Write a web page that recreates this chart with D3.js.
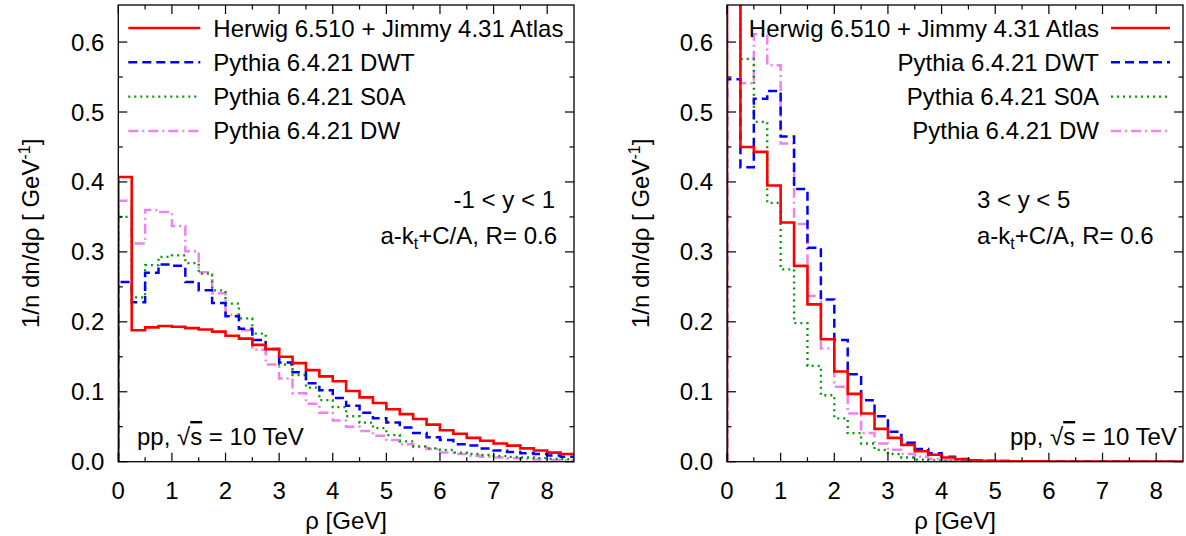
<!DOCTYPE html>
<html><head><meta charset="utf-8">
<script src="https://cdn.jsdelivr.net/npm/d3@7"></script>
<style>body{margin:0;background:#fff}svg{display:block;font-family:"Liberation Sans",Arial,sans-serif}</style>
</head><body>
<svg id="c" width="1186" height="536"></svg>
<script>
// bin lower edges (GeV), bin width 0.25
const binEdges = [0,0.25,0.5,0.75,1,1.25,1.5,1.75,2,2.25,2.5,2.75,3,3.25,3.5,3.75,4,4.25,4.5,4.75,5,5.25,5.5,5.75,6,6.25,6.5,6.75,7,7.25,7.5,7.75,8,8.25];
const binWidth = 0.25;
const xTicks = [0,1,2,3,4,5,6,7,8];
const yTicks = [0,0.1,0.2,0.3,0.4,0.5,0.6];
const seriesNames = ["Herwig 6.510 + Jimmy 4.31 Atlas","Pythia 6.4.21 DWT","Pythia 6.4.21 S0A","Pythia 6.4.21 DW"];

// left panel: -1 < y < 1
const herwigCentral = [0.407,0.188,0.192,0.194,0.193,0.191,0.189,0.186,0.180,0.176,0.167,0.161,0.150,0.141,0.131,0.122,0.115,0.101,0.092,0.084,0.075,0.068,0.061,0.053,0.045,0.040,0.034,0.030,0.026,0.023,0.019,0.016,0.013,0.011];
const dwtCentral    = [0.257,0.228,0.270,0.282,0.280,0.257,0.245,0.227,0.208,0.190,0.174,0.161,0.142,0.128,0.112,0.102,0.091,0.080,0.070,0.062,0.056,0.049,0.041,0.035,0.031,0.025,0.023,0.019,0.016,0.014,0.012,0.011,0.009,0.007];
const s0aCentral    = [0.350,0.235,0.281,0.293,0.295,0.284,0.269,0.245,0.226,0.205,0.183,0.161,0.139,0.124,0.106,0.088,0.078,0.065,0.056,0.048,0.038,0.029,0.022,0.019,0.017,0.013,0.011,0.0096,0.008,0.007,0.006,0.005,0.004,0.0035];
const dwCentral     = [0.373,0.312,0.360,0.357,0.337,0.301,0.271,0.241,0.210,0.188,0.160,0.139,0.119,0.098,0.083,0.070,0.059,0.050,0.044,0.037,0.031,0.025,0.021,0.018,0.013,0.011,0.0086,0.007,0.006,0.005,0.004,0.003,0.0025,0.002];

// right panel: 3 < y < 5
const herwigForward = [0.70,0.450,0.443,0.395,0.342,0.280,0.225,0.175,0.129,0.097,0.069,0.047,0.034,0.024,0.015,0.010,0.006,0.0034,0.002,0.001,0.0008,0.0006,0.0005,0.0004,0.0003,0.0003,0.0002,0.0002,0.0001,0.0001,0.0001,0.0001,0.0001,0.0001];
const dwtForward    = [0.547,0.421,0.519,0.530,0.465,0.390,0.306,0.232,0.174,0.125,0.088,0.065,0.043,0.027,0.018,0.012,0.007,0.004,0.002,0.0012,0.001,0.0008,0.0006,0.0005,0.0004,0.0003,0.0003,0.0002,0.0002,0.0001,0.0001,0.0001,0.0001,0.0001];
const s0aForward    = [0.72,0.576,0.486,0.370,0.275,0.198,0.137,0.095,0.062,0.041,0.026,0.017,0.011,0.006,0.003,0.002,0.001,0.0006,0.0004,0.0003,0.0002,0.0002,0.0001,0.0001,0.0001,0.0001,0.0001,0.0001,0.0001,0.0001,0.0001,0.0001,0.0001,0.0001];
const dwForward     = [0.75,0.541,0.611,0.567,0.455,0.340,0.237,0.162,0.107,0.069,0.041,0.026,0.017,0.011,0.007,0.004,0.0024,0.001,0.0006,0.0004,0.0003,0.0002,0.0002,0.0001,0.0001,0.0001,0.0001,0.0001,0.0001,0.0001,0.0001,0.0001,0.0001,0.0001];

const styles = [
  {color:"#ff0000", width:2.6, dash:null},
  {color:"#0000ff", width:2.5, dash:"9,5"},
  {color:"#009a00", width:2.3, dash:"2,4"},
  {color:"#ee82ee", width:2.5, dash:"10,4,2,4"}
];

const svg = d3.select("#c");
const FONT = 24, SMALL = 16;
const plotTop = 5, plotBottom = 461.7;

const panels = [
  {x0:118.3, x1:574, series:[herwigCentral,dwtCentral,s0aCentral,dwCentral], ylab:30, legend:"left",
   notes:[{t:"rap", text:"-1 < y < 1", x:555, y:208, anchor:"end"},{t:"alg", x:557, y:244, anchor:"end"},{t:"pp", x:137, y:445}]},
  {x0:727, x1:1183, series:[herwigForward,dwtForward,s0aForward,dwForward], ylab:640, legend:"right",
   notes:[{t:"rap", text:"3 < y < 5", x:977, y:208, anchor:"start"},{t:"alg", x:977, y:244, anchor:"start"},{t:"pp", x:1010, y:445}]}
];

panels.forEach((p,pi)=>{
  const x = d3.scaleLinear().domain([0,8.5]).range([p.x0,p.x1]);
  const y = d3.scaleLinear().domain([0,0.653]).range([plotBottom,plotTop]);
  const g = svg.append("g");
  const clipId = "clip"+pi;
  svg.append("clipPath").attr("id",clipId).append("rect")
    .attr("x",p.x0).attr("y",plotTop).attr("width",p.x1-p.x0).attr("height",plotBottom-plotTop);

  const line = d3.line().x(d=>x(d[0])).y(d=>y(d[1])).curve(d3.curveStepAfter);
  const order = [3,2,1,0];
  order.forEach(si=>{
    const vals = p.series[si];
    const pts = [[binEdges[0],0]];
    binEdges.forEach((e,i)=>pts.push([e,vals[i]]));
    pts.push([binEdges[binEdges.length-1]+binWidth, vals[vals.length-1]]);
    const st = styles[si];
    g.append("path").attr("d",line(pts)).attr("fill","none")
      .attr("stroke",st.color).attr("stroke-width",st.width)
      .attr("stroke-dasharray",st.dash).attr("clip-path",`url(#${clipId})`);
  });

  g.append("rect").attr("x",p.x0).attr("y",plotTop).attr("width",p.x1-p.x0).attr("height",plotBottom-plotTop)
    .attr("fill","none").attr("stroke","#000").attr("stroke-width",1.3);

  const xMinor = d3.range(0.5,8.5,1);
  const yMinor = d3.range(0.05,0.65,0.1);
  const tk = g.append("g").attr("stroke","#000").attr("stroke-width",1.2);
  xTicks.forEach(v=>{
    tk.append("line").attr("x1",x(v)).attr("x2",x(v)).attr("y1",plotBottom).attr("y2",plotBottom-9);
    tk.append("line").attr("x1",x(v)).attr("x2",x(v)).attr("y1",plotTop).attr("y2",plotTop+9);
  });
  xMinor.forEach(v=>{
    tk.append("line").attr("x1",x(v)).attr("x2",x(v)).attr("y1",plotBottom).attr("y2",plotBottom-4.5);
    tk.append("line").attr("x1",x(v)).attr("x2",x(v)).attr("y1",plotTop).attr("y2",plotTop+4.5);
  });
  yTicks.forEach(v=>{
    tk.append("line").attr("x1",p.x0).attr("x2",p.x0+9).attr("y1",y(v)).attr("y2",y(v));
    tk.append("line").attr("x1",p.x1).attr("x2",p.x1-9).attr("y1",y(v)).attr("y2",y(v));
  });
  yMinor.forEach(v=>{
    tk.append("line").attr("x1",p.x0).attr("x2",p.x0+4.5).attr("y1",y(v)).attr("y2",y(v));
    tk.append("line").attr("x1",p.x1).attr("x2",p.x1-4.5).attr("y1",y(v)).attr("y2",y(v));
  });

  xTicks.forEach(v=>{
    g.append("text").attr("x",x(v)).attr("y",499).attr("text-anchor","middle")
      .attr("font-size",FONT).text(v);
  });
  yTicks.forEach(v=>{
    g.append("text").attr("x",p.x0-14).attr("y",y(v)+8.5).attr("text-anchor","end")
      .attr("font-size",FONT).text(d3.format(".1f")(v));
  });

  g.append("text").attr("x",(p.x0+p.x1)/2).attr("y",529).attr("text-anchor","middle")
    .attr("font-size",FONT).text("ρ [GeV]");
  const yt = g.append("text").attr("transform",`translate(${p.ylab+9},${(plotTop+plotBottom)/2}) rotate(-90)`)
    .attr("text-anchor","middle").attr("font-size",FONT);
  yt.append("tspan").text("1/n dn/dρ [ GeV");
  yt.append("tspan").attr("font-size",SMALL).attr("dy",-9).text("-1");
  yt.append("tspan").attr("dy",9).text("]");

  seriesNames.forEach((name,si)=>{
    const ly = 28 + si*34.3;
    const st = styles[si];
    let lx1,lx2,tx,anchor;
    if(p.legend==="left"){ lx1=p.x0+10; lx2=p.x0+82; tx=p.x0+95; anchor="start"; }
    else { lx1=p.x1-72; lx2=p.x1-13; tx=p.x1-84; anchor="end"; }
    g.append("line").attr("x1",lx1).attr("x2",lx2).attr("y1",ly).attr("y2",ly)
      .attr("stroke",st.color).attr("stroke-width",st.width).attr("stroke-dasharray",st.dash);
    g.append("text").attr("x",tx).attr("y",ly+8.5).attr("text-anchor",anchor)
      .attr("font-size",FONT).text(name);
  });

  p.notes.forEach(n=>{
    const t = g.append("text").attr("x",n.x).attr("y",n.y).attr("font-size",FONT)
      .attr("text-anchor",n.anchor||"start");
    if(n.t==="rap") t.text(n.text);
    else if(n.t==="alg"){
      t.append("tspan").text("a-k");
      t.append("tspan").attr("font-size",SMALL).attr("dy",5).text("t");
      t.append("tspan").attr("dy",-5).text("+C/A, R= 0.6");
    } else {
      t.append("tspan").text("pp, √");
      t.append("tspan").attr("text-decoration","overline").text("s");
      t.append("tspan").text(" = 10 TeV");
    }
  });
});
</script>
</body></html>
